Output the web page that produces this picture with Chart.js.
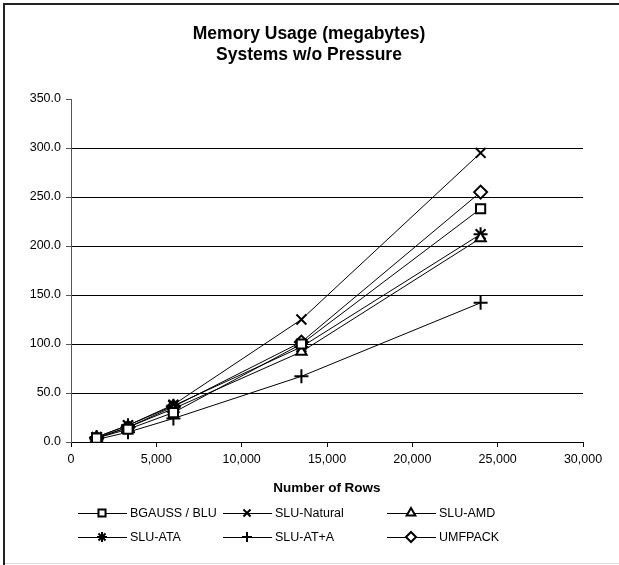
<!DOCTYPE html>
<html>
<head>
<meta charset="utf-8">
<script src="https://cdn.jsdelivr.net/npm/chart.js@4.4.0/dist/chart.umd.min.js"></script>
<style>
  html, body { margin: 0; padding: 0; background: #fff; }
  #wrap { position: relative; width: 619px; height: 565px; }
</style>
</head>
<body>
<div id="wrap"><canvas id="chart" width="619" height="565"></canvas></div>
<script>
const rows = [1500, 3340, 6000, 13500, 24000];
const bgaussBlu = [4, 13, 30, 100, 238];
const sluNatural = [5, 17, 38, 125, 295];
const sluAmd = [4, 15, 34, 92, 208];
const sluAta = [5, 17, 37, 97, 212];
const sluAtPlusA = [2.5, 10, 24, 67, 142];
const umfpack = [4, 15, 36, 102, 255];
const yTicks = [0, 50, 100, 150, 200, 250, 300, 350];

const FONT = 'Liberation Sans, Arial, sans-serif';

function series(label, values, style, radius) {
  return {
    label,
    data: rows.map((x, i) => ({ x, y: values[i] })),
    borderColor: '#000',
    borderWidth: 1,
    pointStyle: style,
    pointRadius: radius,
    pointHoverRadius: radius,
    pointBorderColor: '#000',
    pointBackgroundColor: '#fff',
    pointBorderWidth: 2,
    tension: 0,
    fill: false,
  };
}

const datasets = [
  series('BGAUSS / BLU', bgaussBlu, 'rect', 6.5),
  series('SLU-Natural', sluNatural, 'crossRot', 7),
  series('SLU-AMD', sluAmd, 'triangle', 6),
  series('SLU-ATA', sluAta, 'star', 7),
  series('SLU-AT+A', sluAtPlusA, 'cross', 7),
  series('UMFPACK', umfpack, 'rectRot', 6.5),
];

// title, frame and the line+marker legend are painted here
const decor = {
  id: 'decor',
  afterDraw(chart) {
    const ctx = chart.ctx;
    ctx.save();
    ctx.fillStyle = '#000';
    ctx.textAlign = 'center';
    ctx.textBaseline = 'middle';
    ctx.font = 'bold 17.5px ' + FONT;
    ctx.fillText('Memory Usage (megabytes)', 309, 34);
    ctx.fillText('Systems w/o Pressure', 309, 55);

    ctx.lineWidth = 2;
    ctx.strokeStyle = '#222';
    ctx.beginPath();
    ctx.moveTo(4, 565); ctx.lineTo(4, 4); ctx.lineTo(619, 4);
    ctx.stroke();
    ctx.lineWidth = 1;
    ctx.strokeStyle = '#ddd';
    ctx.beginPath();
    ctx.moveTo(5, 563.5); ctx.lineTo(619, 563.5);
    ctx.stroke();

    const cols = [78, 223, 387];
    const rowsY = [513, 537];
    ctx.font = '12.5px ' + FONT;
    ctx.textAlign = 'left';
    chart.data.datasets.forEach((ds, i) => {
      const x0 = cols[i % 3];
      const y = rowsY[Math.floor(i / 3)];
      ctx.strokeStyle = '#000';
      ctx.lineWidth = 1;
      ctx.beginPath();
      ctx.moveTo(x0, y + 0.5); ctx.lineTo(x0 + 49, y + 0.5);
      ctx.stroke();
      ctx.fillStyle = '#fff';
      ctx.strokeStyle = '#000';
      ctx.lineWidth = 2;
      Chart.helpers.drawPoint(ctx, { pointStyle: ds.pointStyle, radius: 5, borderWidth: 2 }, x0 + 24, y);
      ctx.fillStyle = '#000';
      ctx.fillText(ds.label, x0 + 52, y + 1);
    });
    ctx.restore();
  },
};

new Chart(document.getElementById('chart'), {
  type: 'line',
  data: { datasets },
  plugins: [decor],
  options: {
    responsive: false,
    animation: false,
    layout: { padding: { left: 15, right: 36, top: 99, bottom: 63 } },
    plugins: { legend: { display: false }, title: { display: false }, tooltip: { enabled: false } },
    scales: {
      x: {
        type: 'linear',
        min: 0,
        max: 30000,
        afterBuildTicks: (s) => { s.ticks = [0, 5000, 10000, 15000, 20000, 25000, 30000].map((v) => ({ value: v })); },
        afterFit: (s) => { s.height = 60; },
        border: { color: '#000', width: 1 },
        grid: { drawOnChartArea: false, drawTicks: true, tickLength: 5, color: '#000' },
        ticks: {
          color: '#000', padding: 5, maxRotation: 0,
          font: { family: FONT, size: 12.5 },
          callback: (v) => v.toLocaleString('en-US'),
        },
        title: {
          display: true, text: 'Number of Rows', color: '#000',
          font: { family: FONT, size: 13.5, weight: 'bold' },
          padding: { top: 4, bottom: 6 },
        },
      },
      y: {
        min: 0,
        max: 350,
        afterBuildTicks: (s) => { s.ticks = yTicks.map((v) => ({ value: v })); },
        afterFit: (s) => { s.width = 56; },
        border: { color: '#555', width: 1 },
        grid: {
          color: (c) => (c.tick && c.tick.value === 350 ? 'rgba(0,0,0,0)' : '#000'),
          tickColor: '#555',
          tickLength: 5,
        },
        ticks: {
          color: '#000', padding: 5,
          font: { family: FONT, size: 12.5 },
          callback: (v) => v.toFixed(1),
        },
      },
    },
  },
});
</script>
</body>
</html>
